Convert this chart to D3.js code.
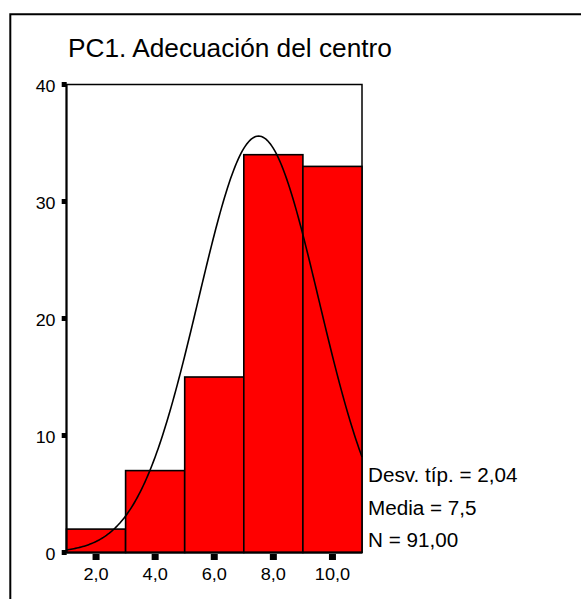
<!DOCTYPE html>
<html>
<head>
<meta charset="utf-8">
<script src="https://cdn.jsdelivr.net/npm/d3@7"></script>
<style>
html,body{margin:0;padding:0;background:#fff;}
svg{display:block;}
text{font-family:"Liberation Sans",Arial,sans-serif;fill:#000;}
</style>
</head>
<body>
<svg id="chart" width="581" height="599"></svg>
<script>
// Data
const binStarts = [1, 3, 5, 7, 9];
const binEnds = [3, 5, 7, 9, 11];
const counts = [2, 7, 15, 34, 33];
const xTickValues = [2, 4, 6, 8, 10];
const xTickLabels = ["2,0", "4,0", "6,0", "8,0", "10,0"];
const yTickValues = [0, 10, 20, 30, 40];
const yTickLabels = ["0", "10", "20", "30", "40"];
const title = "PC1. Adecuación del centro";
const statLabels = ["Desv. típ. = 2,04", "Media = 7,5", "N = 91,00"];
const stdDev = [2.04];
const mean = [7.5];
const nTotal = [91];
const binWidth = [2];

const svg = d3.select("#chart");

// helper: horizontally stretched text
function stretchedText(xp, yp, txt, size, sx, anchor) {
  const g = svg.append("g").attr("transform", `translate(${xp},${yp}) scale(${sx},1)`);
  g.append("text").attr("x", 0).attr("y", 0)
    .attr("font-size", size).attr("text-anchor", anchor || "start").text(txt);
  return g;
}

// outer frame
svg.append("path")
  .attr("d", "M10.3,599 L10.3,14.3 L581,14.3")
  .attr("fill", "none").attr("stroke", "#000").attr("stroke-width", 2);

const x = d3.scaleLinear().domain([1, 11]).range([66.5, 362]);
const y = d3.scaleLinear().domain([0, 40]).range([552.5, 84.5]);

// title
stretchedText(68, 57, title, 25, 1.05);

// plot frame (top & right)
svg.append("rect")
  .attr("x", x(1)).attr("y", y(40))
  .attr("width", x(11) - x(1)).attr("height", y(0) - y(40))
  .attr("fill", "#fff").attr("stroke", "#000").attr("stroke-width", 1.5);

// bars
svg.selectAll("rect.bar").data(counts).enter().append("rect")
  .attr("class", "bar")
  .attr("x", (d, i) => x(binStarts[i]))
  .attr("y", d => y(d))
  .attr("width", (d, i) => x(binEnds[i]) - x(binStarts[i]))
  .attr("height", d => y(0) - y(d))
  .attr("fill", "#ff0000").attr("stroke", "#000").attr("stroke-width", 1.6);

// normal curve from displayed statistics
const pts = d3.range(0, 201).map(k => {
  const xv = 1 + k * 10 / 200;
  const z = (xv - mean[0]) / stdDev[0];
  const v = nTotal[0] * binWidth[0] / (stdDev[0] * Math.sqrt(2 * Math.PI)) * Math.exp(-0.5 * z * z);
  return [xv, v];
});
svg.append("path")
  .datum(pts)
  .attr("d", d3.line().x(d => x(d[0])).y(d => y(d[1])))
  .attr("fill", "none").attr("stroke", "#000").attr("stroke-width", 1.6);

// axes lines
svg.append("line").attr("x1", x(1)).attr("x2", x(1)).attr("y1", y(40)).attr("y2", y(0))
  .attr("stroke", "#000").attr("stroke-width", 2);
svg.append("line").attr("x1", x(1)).attr("x2", x(11)).attr("y1", y(0)).attr("y2", y(0))
  .attr("stroke", "#000").attr("stroke-width", 2);

// y ticks (squares) and labels
yTickValues.forEach((v, i) => {
  svg.append("rect").attr("x", 61.7).attr("y", y(v) - 2.5).attr("width", 5).attr("height", 5).attr("fill", "#000");
  stretchedText(55.5, y(v) + 7.5, yTickLabels[i], 16.5, 1.08, "end");
});

// x ticks (squares) and labels
xTickValues.forEach((v, i) => {
  svg.append("rect").attr("x", x(v) - 3.5).attr("y", 554).attr("width", 7).attr("height", 6).attr("fill", "#000");
  stretchedText(x(v), 580, xTickLabels[i], 16.5, 1.1, "middle");
});

// stats
const statY = [482, 515, 547];
statLabels.forEach((s, i) => {
  stretchedText(368, statY[i], s, 19.5, 1.06);
});
</script>
</body>
</html>
